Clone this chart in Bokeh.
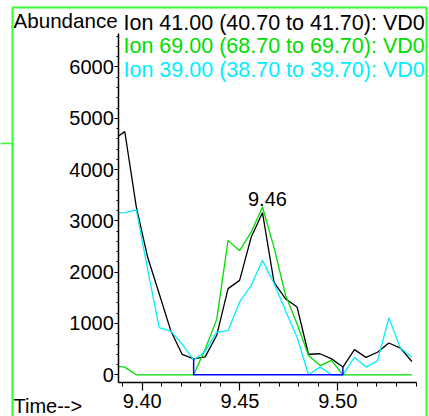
from bokeh.plotting import figure
from bokeh.models import Range1d, FixedTicker, PrintfTickFormatter, Label, BoxAnnotation
from bokeh.embed import file_html
from bokeh.resources import INLINE

# ---- data (retention time in min, abundance) ----
times = [9.3852, 9.3911, 9.3970, 9.4028, 9.4087, 9.4146, 9.4204, 9.4263, 9.4322,
         9.4381, 9.4439, 9.4498, 9.4557, 9.4615, 9.4674, 9.4733, 9.4792, 9.4850,
         9.4909, 9.4968, 9.5026, 9.5085, 9.5144, 9.5203, 9.5261, 9.5320, 9.5379]
ion41 = [4580, 4740, 3270, 2290, 1580, 860, 400, 310, 350, 770, 1680, 1840, 2680,
         3160, 1800, 1480, 1320, 400, 410, 310, 150, 490, 340, 440, 620, 520, 260]
ion69 = [175, 150, 0, 0, 0, 0, 0, 0, 500, 1080, 2620, 2420, 2780,
         3270, 2480, 1550, 990, 380, 180, 280, 0, 0, 0, 0, 0, 0, 0]
ion39 = [3150, 3160, 3215, 2050, 920, 850, 600, 290, 460, 830, 860, 1420, 1740,
         2230, 1780, 1250, 730, 0, 150, 0, 0, 340, 150, 270, 1110, 520, 340]
series_labels = ["Ion  41.00 (40.70 to 41.70): VD0",
                 "Ion  69.00 (68.70 to 69.70): VD0",
                 "Ion  39.00 (38.70 to 39.70): VD0"]
series_colors = ["#000000", "#00dd00", "#00eeff"]
integration_start, integration_end = 7, 20   # indices into times of the integrated peak
x_ticks = [9.40, 9.45, 9.50]
y_ticks = [0, 1000, 2000, 3000, 4000, 5000, 6000]
y_axis_title = "Abundance"
x_axis_title = "Time-->"

FONT = "Liberation Sans"
W, H = 429, 416
FRAME_GREEN = "#33ff33"

# axes sit inside a full-canvas frame (like the instrument printout)
X_AXIS_AT = -150          # abundance level where the time axis is drawn
Y_AXIS_AT = 9.38804       # time where the abundance axis is drawn
X_AXIS_END = 9.5402
Y_AXIS_END = 6653

p = figure(width=W, height=H, output_backend="svg", toolbar_location=None,
           x_range=Range1d(9.32756, 9.54688), y_range=Range1d(-813, 7296),
           min_border=0, background_fill_color="white", border_fill_color="white")
p.outline_line_color = None
p.grid.visible = False

p.xaxis.ticker = FixedTicker(ticks=x_ticks,
                             minor_ticks=[round(9.39 + 0.01 * i, 2) for i in range(16)])
p.yaxis.ticker = FixedTicker(ticks=y_ticks, minor_ticks=[200 * i for i in range(34)])
p.xaxis.formatter = PrintfTickFormatter(format="%.2f")
p.yaxis.formatter = PrintfTickFormatter(format="%d")
p.xaxis.fixed_location = X_AXIS_AT
p.yaxis.fixed_location = Y_AXIS_AT
p.xaxis.bounds = (Y_AXIS_AT, X_AXIS_END)
p.yaxis.bounds = (X_AXIS_AT, Y_AXIS_END)
for ax in (p.xaxis[0], p.yaxis[0]):
    ax.axis_line_color = "black"
    ax.axis_line_width = 1.5
    ax.major_tick_line_color = "black"
    ax.minor_tick_line_color = "black"
    ax.major_tick_line_width = 1.2
    ax.major_tick_in = 0
    ax.minor_tick_in = 0
    ax.major_label_text_font = FONT
    ax.major_label_text_font_size = "20px"
    ax.major_label_text_color = "black"
p.xaxis.major_tick_out = 8
p.xaxis.minor_tick_out = 4
p.xaxis.major_label_standoff = 4
p.yaxis.major_tick_out = 4
p.yaxis.minor_tick_out = 2
p.yaxis.major_label_standoff = 1

for ys, col in zip([ion41, ion69, ion39], series_colors):
    p.line(times, ys, line_color=col, line_width=1.3)

i0, i1 = integration_start, integration_end
p.line([times[i0], times[i0], times[i1], times[i1]],
       [ion41[i0], 0, 0, ion41[i1]], line_color="#0000ff", line_width=1.5)

# traces are cut at the abundance axis
p.quad(left=p.x_range.start, right=Y_AXIS_AT, bottom=p.y_range.start,
       top=p.y_range.end, fill_color="white", line_color=None)

ipk = max(range(i0, i1 + 1), key=lambda i: ion41[i])
p.add_layout(Label(x=times[ipk], y=ion41[ipk], text=f"{times[ipk]:.2f}",
                   x_offset=-14.5, y_offset=14, text_font=FONT, text_font_size="20px",
                   text_baseline="middle", text_color="black"))

p.add_layout(Label(x=13, y=20, x_units="canvas", y_units="canvas", text=y_axis_title,
                   text_font=FONT, text_font_size="20.6px", text_baseline="middle",
                   text_color="black"))
p.add_layout(Label(x=13, y=405, x_units="canvas", y_units="canvas", text=x_axis_title,
                   text_font=FONT, text_font_size="20px", text_baseline="middle",
                   text_color="black"))
for j, (txt, col) in enumerate(zip(series_labels, series_colors)):
    p.add_layout(Label(x=123, y=22 + 23.5 * j, x_units="canvas", y_units="canvas",
                       text=txt, text_font=FONT, text_font_size="21.5px",
                       text_color=col, text_baseline="middle"))

# panel frame and the neighbouring panel's edge
p.add_layout(BoxAnnotation(left=12, right=426, top=7, bottom=470,
                           left_units="canvas", right_units="canvas",
                           top_units="canvas", bottom_units="canvas",
                           fill_color=None, fill_alpha=0, line_color=FRAME_GREEN,
                           line_alpha=1, line_width=2, level="overlay"))
p.add_layout(BoxAnnotation(left=-20, right=12, top=143, bottom=470,
                           left_units="canvas", right_units="canvas",
                           top_units="canvas", bottom_units="canvas",
                           fill_color=None, fill_alpha=0, line_color=FRAME_GREEN,
                           line_alpha=1, line_width=1.5, level="overlay"))

open("out.html", "w").write(file_html(p, INLINE))
